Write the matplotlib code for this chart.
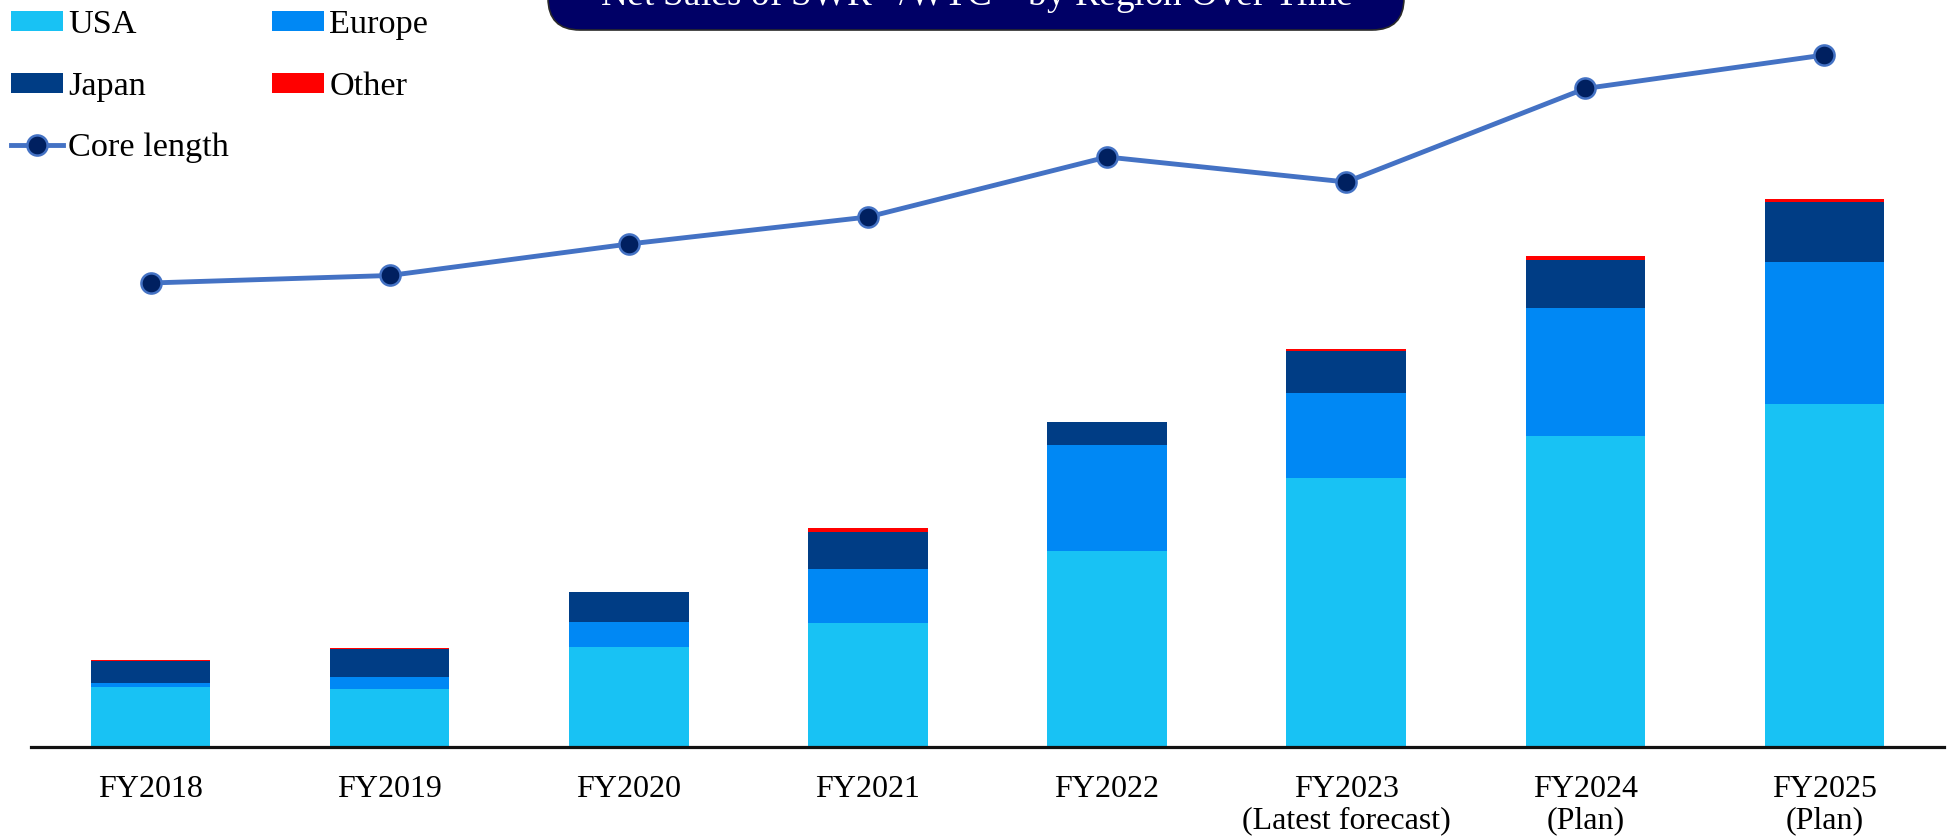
import matplotlib
matplotlib.use("Agg")
import matplotlib.pyplot as plt
from matplotlib.patches import FancyBboxPatch
import numpy as np

plt.rcParams['font.family'] = ['Liberation Serif', 'DejaVu Serif']
plt.rcParams['mathtext.fontset'] = 'custom'
plt.rcParams['mathtext.rm'] = 'Liberation Serif'
plt.rcParams['mathtext.it'] = 'Liberation Serif:italic'

# Fiscal years and regional net sales (relative units)
categories = ["FY2018", "FY2019", "FY2020", "FY2021", "FY2022",
              "FY2023\n(Latest forecast)", "FY2024\n(Plan)", "FY2025\n(Plan)"]
usa = [60, 58, 100, 124, 196, 269, 311, 343]
europe = [4, 12, 25, 54, 106, 85, 128, 142]
japan = [22, 28, 30, 37.5, 22.5, 41.5, 47.5, 59.5]
other = [0.8, 0.8, 0.3, 3.7, 0.3, 2.4, 4.0, 3.7]

# Core length trend (relative units)
core_length = [464, 471.5, 503, 530, 590, 565, 658.5, 692]

col_usa = "#18C2F4"
col_europe = "#0088F4"
col_japan = "#003D85"
col_other = "#FF0000"
col_line = "#4472C4"
col_marker = "#002060"

W, H = 1954, 838
fig = plt.figure(figsize=(W / 100, H / 100), dpi=100)

left_px, right_px, base_px = 31, 1944, 747
ax = fig.add_axes([left_px / W, (H - base_px) / H, (right_px - left_px) / W, base_px / H])

x = np.arange(len(categories))
bw = 0.5
b1 = np.array(usa)
b2 = b1 + np.array(europe)
b3 = b2 + np.array(japan)
ax.bar(x, usa, bw, color=col_usa, label="USA", linewidth=0)
ax.bar(x, europe, bw, bottom=b1, color=col_europe, label="Europe", linewidth=0)
ax.bar(x, japan, bw, bottom=b2, color=col_japan, label="Japan", linewidth=0)
ax.bar(x, other, bw, bottom=b3, color=col_other, label="Other", linewidth=0)

ax2 = ax.twinx()
ax2.plot(x, core_length, color=col_line, lw=3.5, marker="o", markersize=14.5,
         markerfacecolor=col_marker, markeredgecolor=col_line, markeredgewidth=1.8,
         label="Core length")

for a in (ax, ax2):
    a.set_xlim(-0.5, len(categories) - 0.5)
    a.set_ylim(0, base_px)
    for s in ("top", "right", "left"):
        a.spines[s].set_visible(False)
    a.set_yticks([])
ax2.spines["bottom"].set_visible(False)
ax.spines["bottom"].set_linewidth(2.3)
ax.spines["bottom"].set_color("#111111")

ax.set_xticks(x)
ax.set_xticklabels(categories, fontsize=23, linespacing=1.1)
ax.tick_params(axis="x", length=0, pad=20.5)

# Legend
h1, l1 = ax.get_legend_handles_labels()
h2, l2 = ax2.get_legend_handles_labels()
handles = [h1[0], h1[2], h2[0], h1[1], h1[3]]
labels = [l1[0], l1[2], l2[0], l1[1], l1[3]]
fig.legend(handles, labels, ncol=2, loc="upper left",
           bbox_to_anchor=(11 / W, 1 - 9.5 / H), bbox_transform=fig.transFigure,
           frameon=False, fontsize=24.7, borderpad=0, borderaxespad=0,
           handlelength=1.52, handleheight=0.52, handletextpad=0.15,
           columnspacing=1.25, labelspacing=0.91)

# Title banner
ov = fig.add_axes([0, 0, 1, 1], zorder=5)
ov.set_xlim(0, W)
ov.set_ylim(H, 0)
ov.axis("off")
ov.patch.set_alpha(0)
banner = FancyBboxPatch((548, -60), 1404 - 548, 90,
                        boxstyle="round,pad=0,rounding_size=32",
                        facecolor="#000066", edgecolor="#2a2a2a", linewidth=1.2)
ov.add_patch(banner)
ov.text(977, 6, r"Net Sales of SWR$^{*1}$/WTC$^{*2}$ by Region Over Time",
        color="white", fontsize=26.7, ha="center", va="baseline")

fig.savefig("out.png", dpi=100)
